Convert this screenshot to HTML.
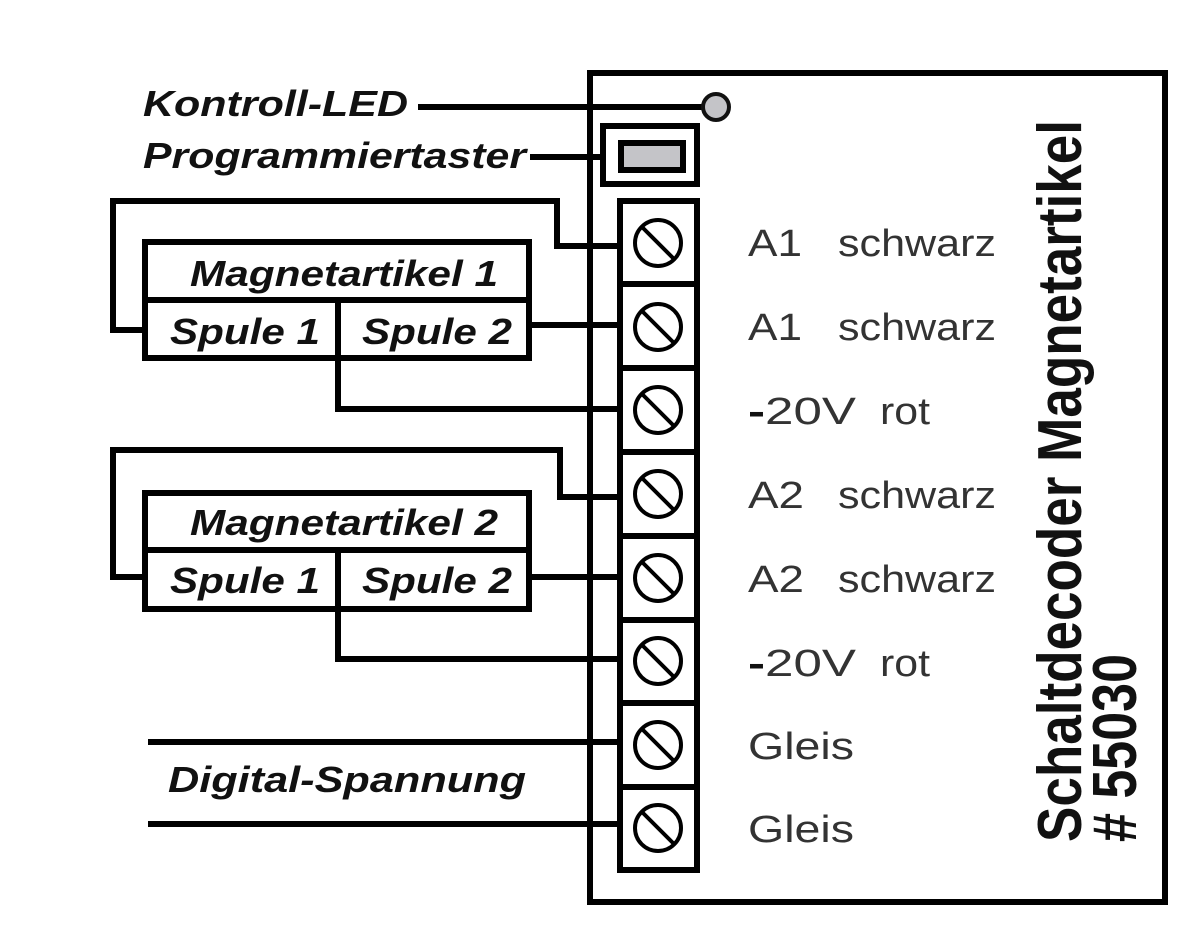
<!DOCTYPE html>
<html><head><meta charset="utf-8"><style>
html,body{margin:0;padding:0;background:#fff;}
svg{display:block;}
.b{font-family:"Liberation Sans",sans-serif;font-weight:bold;font-style:italic;fill:#111;}
.g{font-family:"Liberation Sans",sans-serif;fill:#333;font-size:38px;}
</style></head><body>
<svg width="1200" height="947" viewBox="0 0 1200 947" xmlns="http://www.w3.org/2000/svg">
<rect width="1200" height="947" fill="#fff"/>
<g fill="none" stroke="#000" stroke-width="6">
<rect x="590" y="73" width="575" height="829"/>
<rect x="603" y="126" width="94" height="58"/>
<rect x="620" y="201" width="77" height="669"/>
<line x1="418" y1="107" x2="702" y2="107"/>
<line x1="530" y1="157" x2="603" y2="157"/>
<line x1="620" y1="284" x2="697" y2="284"/>
<line x1="620" y1="368" x2="697" y2="368"/>
<line x1="620" y1="452" x2="697" y2="452"/>
<line x1="620" y1="536" x2="697" y2="536"/>
<line x1="620" y1="620" x2="697" y2="620"/>
<line x1="620" y1="703" x2="697" y2="703"/>
<line x1="620" y1="787" x2="697" y2="787"/>
<rect x="145" y="242" width="384" height="116"/>
<line x1="145" y1="300" x2="529" y2="300"/>
<line x1="338" y1="300" x2="338" y2="358"/>
<rect x="145" y="493" width="384" height="116"/>
<line x1="145" y1="550" x2="529" y2="550"/>
<line x1="338" y1="550" x2="338" y2="609"/>
<polyline points="145,330 113,330 113,201 557,201 557,246 620,246"/>
<line x1="529" y1="325" x2="620" y2="325"/>
<polyline points="338,358 338,409 620,409"/>
<polyline points="145,577 113,577 113,450 560,450 560,497 620,497"/>
<line x1="529" y1="577" x2="620" y2="577"/>
<polyline points="338,609 338,659 620,659"/>
<line x1="148" y1="742" x2="620" y2="742"/>
<line x1="148" y1="824" x2="620" y2="824"/>
</g>
<circle cx="716" cy="107" r="13" fill="#c4c4c8" stroke="#111" stroke-width="4"/>
<rect x="621" y="143" width="62" height="27" fill="#c4c4c8" stroke="#000" stroke-width="6"/>
<g fill="none" stroke="#000" stroke-width="4">
<circle cx="658" cy="243" r="23"/><line x1="642" y1="227" x2="674" y2="259"/>
<circle cx="658" cy="327" r="23"/><line x1="642" y1="311" x2="674" y2="343"/>
<circle cx="658" cy="410" r="23"/><line x1="642" y1="394" x2="674" y2="426"/>
<circle cx="658" cy="494" r="23"/><line x1="642" y1="478" x2="674" y2="510"/>
<circle cx="658" cy="578" r="23"/><line x1="642" y1="562" x2="674" y2="594"/>
<circle cx="658" cy="661" r="23"/><line x1="642" y1="645" x2="674" y2="677"/>
<circle cx="658" cy="745" r="23"/><line x1="642" y1="729" x2="674" y2="761"/>
<circle cx="658" cy="828" r="23"/><line x1="642" y1="812" x2="674" y2="844"/>
</g>
<text class="b" x="143" y="116" font-size="36" textLength="265" lengthAdjust="spacingAndGlyphs">Kontroll-LED</text>
<text class="b" x="143" y="168" font-size="36" textLength="383" lengthAdjust="spacingAndGlyphs">Programmiertaster</text>
<text class="b" x="190" y="286" font-size="36" textLength="308" lengthAdjust="spacingAndGlyphs">Magnetartikel 1</text>
<text class="b" x="170" y="344" font-size="36" textLength="150" lengthAdjust="spacingAndGlyphs">Spule 1</text>
<text class="b" x="362" y="344" font-size="36" textLength="150" lengthAdjust="spacingAndGlyphs">Spule 2</text>
<text class="b" x="190" y="535" font-size="36" textLength="308" lengthAdjust="spacingAndGlyphs">Magnetartikel 2</text>
<text class="b" x="170" y="593" font-size="36" textLength="150" lengthAdjust="spacingAndGlyphs">Spule 1</text>
<text class="b" x="362" y="593" font-size="36" textLength="150" lengthAdjust="spacingAndGlyphs">Spule 2</text>
<text class="b" x="168" y="792" font-size="36" textLength="358" lengthAdjust="spacingAndGlyphs">Digital-Spannung</text>
<text class="g" x="748" y="256" textLength="54" lengthAdjust="spacingAndGlyphs">A1</text><text class="g" x="838" y="256" textLength="158" lengthAdjust="spacingAndGlyphs">schwarz</text>
<text class="g" x="748" y="340" textLength="54" lengthAdjust="spacingAndGlyphs">A1</text><text class="g" x="838" y="340" textLength="158" lengthAdjust="spacingAndGlyphs">schwarz</text>
<text class="g" x="748" y="424" textLength="108" lengthAdjust="spacingAndGlyphs"><tspan font-weight="bold" fill="#111">-</tspan>20V</text><text class="g" x="880" y="424" textLength="50" lengthAdjust="spacingAndGlyphs">rot</text>
<text class="g" x="748" y="508" textLength="56" lengthAdjust="spacingAndGlyphs">A2</text><text class="g" x="838" y="508" textLength="158" lengthAdjust="spacingAndGlyphs">schwarz</text>
<text class="g" x="748" y="592" textLength="56" lengthAdjust="spacingAndGlyphs">A2</text><text class="g" x="838" y="592" textLength="158" lengthAdjust="spacingAndGlyphs">schwarz</text>
<text class="g" x="748" y="676" textLength="108" lengthAdjust="spacingAndGlyphs"><tspan font-weight="bold" fill="#111">-</tspan>20V</text><text class="g" x="880" y="676" textLength="50" lengthAdjust="spacingAndGlyphs">rot</text>
<text class="g" x="748" y="759" textLength="106" lengthAdjust="spacingAndGlyphs">Gleis</text>
<text class="g" x="748" y="842" textLength="106" lengthAdjust="spacingAndGlyphs">Gleis</text>
<text transform="translate(1081,842) rotate(-90)" font-family="Liberation Sans,sans-serif" font-weight="bold" font-size="62" fill="#111" textLength="722" lengthAdjust="spacingAndGlyphs">Schaltdecoder Magnetartikel</text>
<text transform="translate(1136,842) rotate(-90)" font-family="Liberation Sans,sans-serif" font-weight="bold" font-size="62" fill="#111" textLength="188" lengthAdjust="spacingAndGlyphs"># 55030</text>
</svg>
</body></html>
